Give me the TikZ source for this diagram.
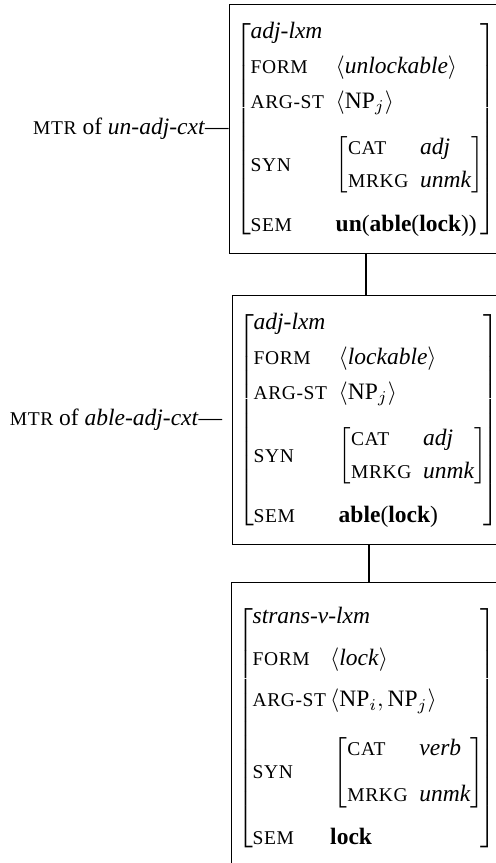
\documentclass[tikz,border=0pt]{standalone}
\usepackage{fontspec}
\setmainfont{Liberation Serif}
\usepackage{array}
\usetikzlibrary{positioning}
\newcommand{\ft}[1]{{\fontsize{8.3}{10}\selectfont\addfontfeature{LetterSpace=3}#1}}
\newcommand{\syn}[3][2.25pt]{$\left[\begin{tabular}{@{}l@{\hspace{5pt}}l@{}}\ft{CAT} & \textit{#2}\\[#1] \ft{MRKG} & \textit{#3}\end{tabular}\right]$}
\newcommand{\avm}[3]{$\left[\begin{tabular}{@{\hspace{-0.4pt}}p{#1}@{}p{#2}@{}}#3\end{tabular}\right]$}
\newcommand{\typ}[1]{\multicolumn{2}{@{\hspace{-0.4pt}}l@{}}{\textit{#1}}}

\begin{document}
\begin{tikzpicture}[x=0.4255pt, y=0.4255pt,
  lexbox/.style={draw, line width=0.5pt, inner xsep=2.7pt, inner ysep=6pt, anchor=north west},
  mtr/.style={anchor=east, inner sep=0pt}]
  \useasboundingbox (0,0) rectangle (496,-863);
  \clip (0,0) rectangle (496,-863);
  % the three lexemes, top to bottom
  \node[lexbox] (unlockable) at (229,-4) {\avm{36.2pt}{61.5pt}{
      \typ{adj-lxm} \\[2.9pt]
      \ft{FORM} & $\langle$\textit{unlockable}$\rangle$ \\[2.9pt]
      \ft{ARG-ST} & $\langle\mbox{NP}_j\rangle$ \\[7.4pt]
      \ft{SYN} & \syn{adj}{unmk} \\[13.6pt]
      \ft{SEM} & \textbf{un}(\textbf{able}(\textbf{lock}))}};
  \node[lexbox] (lockable) at (232,-295) {\avm{36.2pt}{61.5pt}{
      \typ{adj-lxm} \\[2.9pt]
      \ft{FORM} & $\langle$\textit{lockable}$\rangle$ \\[2.9pt]
      \ft{ARG-ST} & $\langle\mbox{NP}_j\rangle$ \\[7.4pt]
      \ft{SYN} & \syn{adj}{unmk} \\[13.6pt]
      \ft{SEM} & \textbf{able}(\textbf{lock})}};
  \node[lexbox, inner ysep=9pt] (lock) at (231,-582) {\avm{33pt}{64pt}{
      \typ{strans-v-lxm} \\[5.7pt]
      \ft{FORM} & $\langle$\textit{lock}$\rangle$ \\[5.7pt]
      \ft{ARG-ST} & $\langle\mbox{NP}_i,\mbox{NP}_j\rangle$ \\[8.8pt]
      \ft{SYN} & \mbox{\hspace{1.5pt}\syn[7.6pt]{verb}{unmk}} \\[16pt]
      \ft{SEM} & \textbf{lock}}};
  \node[mtr] (unmtr) at (unlockable.west) {\ft{MTR} of \textit{un-adj-cxt}---};
  \node[mtr, xshift=-4pt] (ablemtr) at (lockable.west) {\ft{MTR} of \textit{able-adj-cxt}---};
  \draw[line width=0.5pt] (unlockable.south) -- (unlockable.south |- lockable.north);
  \draw[line width=0.5pt] (lockable.south) -- (lockable.south |- lock.north);
\end{tikzpicture}
\end{document}
